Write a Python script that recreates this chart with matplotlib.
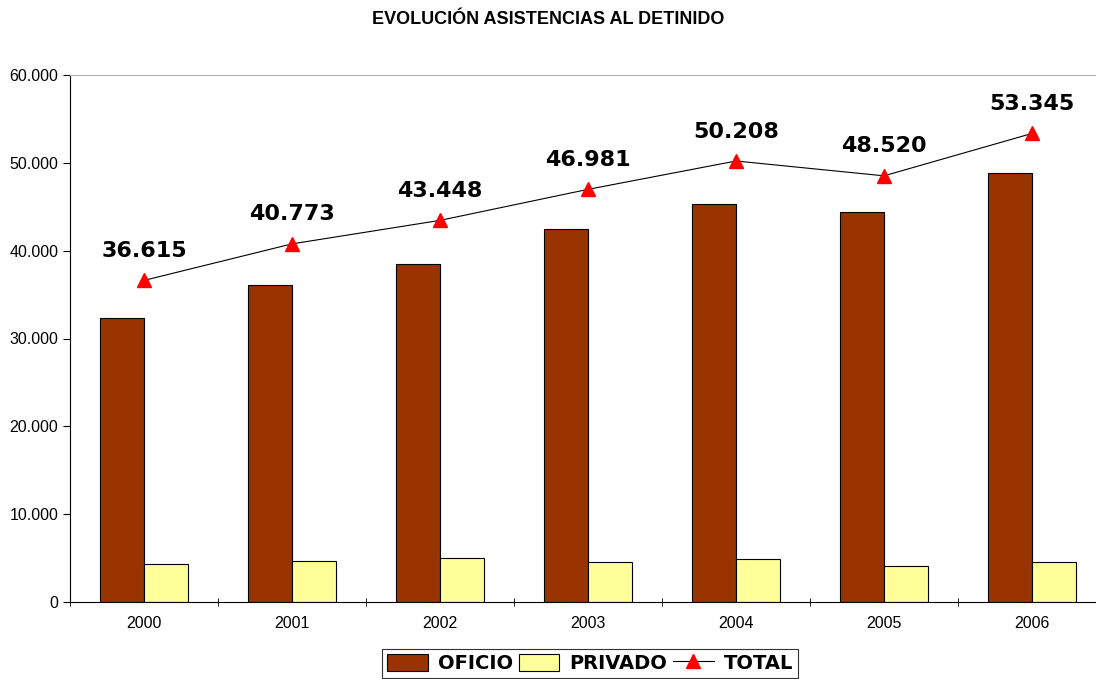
import numpy as np
import matplotlib.pyplot as plt
from matplotlib.ticker import FuncFormatter

anios = ["2000", "2001", "2002", "2003", "2004", "2005", "2006"]
oficio = [32300, 36100, 38450, 42450, 45350, 44450, 48800]
privado = [4315, 4673, 4998, 4531, 4858, 4070, 4545]
total = [36615, 40773, 43448, 46981, 50208, 48520, 53345]

fig = plt.figure(figsize=(10.96, 6.79), dpi=100)
ax = fig.add_axes([70 / 1096, 1 - 602 / 679, 1036 / 1096, 527 / 679])

x = np.arange(len(anios))
ancho = 0.3
b1 = ax.bar(x - ancho / 2, oficio, ancho, color="#993300", edgecolor="black", linewidth=0.8, label="OFICIO")
b2 = ax.bar(x + ancho / 2, privado, ancho, color="#FFFF99", edgecolor="black", linewidth=0.8, label="PRIVADO")
l1, = ax.plot(x, total, color="black", linewidth=0.8, marker="^", markersize=10,
              markerfacecolor="red", markeredgecolor="red", label="TOTAL")

for xi, t in zip(x, total):
    etiqueta = f"{t:,}".replace(",", ".")
    ax.annotate(etiqueta, (xi, t), xytext=(0, 14), textcoords="offset points",
                ha="center", va="bottom", fontsize=16, fontweight="bold",
                family="DejaVu Sans")

ax.set_xlim(-0.5, len(anios) - 0.5)
ax.set_ylim(0, 60000)
ax.set_yticks(range(0, 60001, 10000))
ax.yaxis.set_major_formatter(FuncFormatter(lambda v, p: f"{int(v):,}".replace(",", ".")))
ax.set_xticks(x)
ax.set_xticklabels(anios)
ax.set_xticks(np.arange(-0.5, len(anios), 1), minor=True)
ax.tick_params(axis="x", which="major", length=0, pad=10)
ax.tick_params(axis="x", which="minor", length=6, direction="inout")
ax.tick_params(axis="y", length=5, direction="out", width=0.8)
for lab in ax.get_xticklabels() + ax.get_yticklabels():
    lab.set_family("Liberation Sans")
    lab.set_fontsize(11.5)

ax.spines["right"].set_visible(False)
ax.spines["top"].set_color("#b0b0b0")
ax.spines["left"].set_linewidth(0.8)
ax.spines["bottom"].set_linewidth(0.8)

fig.text(0.5, 1 - 20 / 679, "EVOLUCIÓN ASISTENCIAS AL DETINIDO", ha="center", va="center",
         fontsize=13, fontweight="bold", family="Liberation Sans")

leg = ax.legend(handles=[b1, b2, l1], loc="upper center", bbox_to_anchor=(590 / 1096, 1 - 649 / 679),
                bbox_transform=fig.transFigure, ncol=3, frameon=True, fancybox=False,
                prop={"family": "DejaVu Sans", "weight": "bold", "size": 14},
                handlelength=2.1, handleheight=0.95, handletextpad=0.5, columnspacing=0.3,
                borderpad=0.25, borderaxespad=0)
leg.get_frame().set_edgecolor("black")
leg.get_frame().set_linewidth(0.8)

plt.savefig("out.png", dpi=100)
